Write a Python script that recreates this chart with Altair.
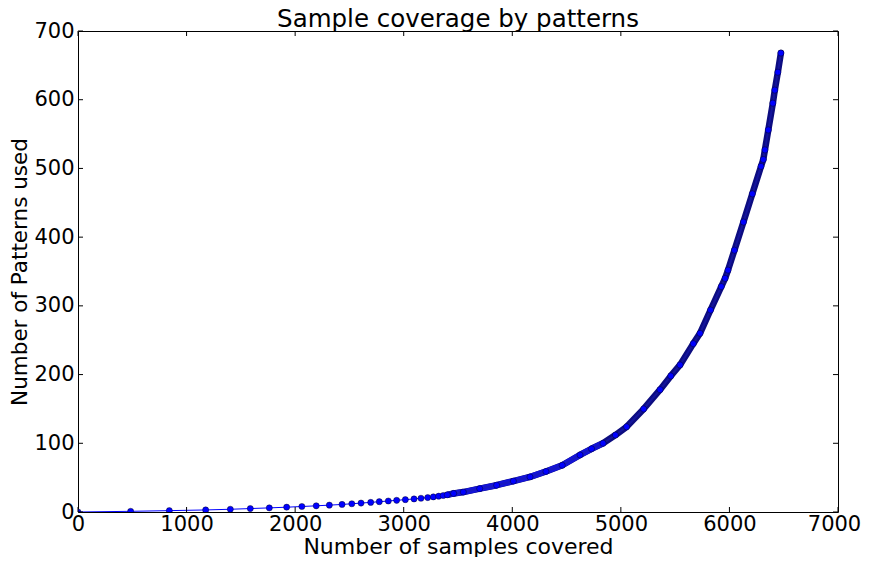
import altair as alt
import pandas as pd

# Points (samples covered, patterns used)
sparse_x = [0, 485, 841, 1176, 1403, 1587, 1762, 1922, 2062, 2194, 2315, 2432, 2522,
            2607, 2696, 2775, 2858, 2935, 3015, 3095, 3159, 3221, 3273, 3322, 3364, 3401]
sparse_y = [0, 1, 2, 3, 4, 5, 6, 7, 8, 9, 10, 11, 12,
            13, 14, 15, 16, 17, 18, 19, 20, 21, 22, 23, 24, 25]

dense_x = [3401, 3460, 3549, 3700, 3856, 4010, 4163, 4310, 4460, 4624, 4730, 4836, 4950,
           5053, 5210, 5361, 5460, 5545, 5667, 5729, 5826, 5925, 5960, 5987, 6046,
           6129, 6211, 6291, 6312, 6327, 6358, 6400, 6418, 6446, 6474]
dense_y = [25, 27, 29, 34, 39, 45, 51, 59, 68, 83, 92, 100, 112,
           124, 150, 178, 198, 214, 245, 260, 294, 328, 340, 352, 381,
           422, 463, 503, 513, 527, 556, 595, 614, 640, 668]

x_ticks = [0, 1000, 2000, 3000, 4000, 5000, 6000, 7000]
y_ticks = [0, 100, 200, 300, 400, 500, 600, 700]

W, H = 760, 481
FONT = "DejaVu Sans"

all_df = pd.DataFrame({"x": sparse_x + dense_x[1:], "y": sparse_y + dense_y[1:]})
all_df["order"] = range(len(all_df))
dense_df = pd.DataFrame({"x": dense_x, "y": dense_y})
dense_df["order"] = range(len(dense_df))
low_df = dense_df[dense_df["y"] <= 100]
xt = pd.DataFrame({"t": x_ticks})
yt = pd.DataFrame({"t": y_ticks})

xs = alt.Scale(domain=[0, 7000], nice=False, zero=False)
ys = alt.Scale(domain=[0, 700], nice=False, zero=False)

xaxis = alt.Axis(values=x_ticks, format="d", grid=False, ticks=False, domain=False,
                 labelFont=FONT, labelFontSize=21, labelColor="black", labelPadding=1,
                 labelFlush=False,
                 labelOffset={"condition": {"test": "datum.value == 7000", "value": -4}, "value": 0},
                 title="Number of samples covered", titleFont=FONT, titleFontSize=22,
                 titleFontWeight="normal", titleColor="black",
                 titleBaseline="alphabetic", titleY=41)
yaxis = alt.Axis(values=y_ticks, format="d", grid=False, ticks=False, domain=False,
                 labelFont=FONT, labelFontSize=21, labelColor="black", labelPadding=4,
                 labelFlush=False,
                 title="Number of Patterns used", titleFont=FONT, titleFontSize=21.5,
                 titleFontWeight="normal", titleColor="black", titlePadding=2)

base = alt.Chart(all_df)

thin_line = base.mark_line(color="#0000ff", strokeWidth=1, clip=True).encode(
    x=alt.X("x:Q", scale=xs, axis=xaxis),
    y=alt.Y("y:Q", scale=ys, axis=yaxis),
    order="order:Q",
)

band_navy = alt.Chart(dense_df).mark_line(color="#0c0c80", strokeWidth=6.5, strokeCap="round",
                                          strokeJoin="round", clip=True).encode(
    x=alt.X("x:Q", scale=xs), y=alt.Y("y:Q", scale=ys), order="order:Q")

band_blue = alt.Chart(low_df).mark_line(color="#1414d8", strokeWidth=6, strokeCap="round",
                                        strokeJoin="round", clip=True).encode(
    x=alt.X("x:Q", scale=xs), y=alt.Y("y:Q", scale=ys), order="order:Q")

band_core = alt.Chart(dense_df).mark_line(color="#1a1ab0", strokeWidth=2, opacity=0.6,
                                          clip=True).encode(
    x=alt.X("x:Q", scale=xs), y=alt.Y("y:Q", scale=ys), order="order:Q")

pts = base.mark_point(filled=True, shape="circle", size=38, color="#0000ff",
                      stroke="black", strokeWidth=0.4, opacity=1, clip=True).encode(
    x=alt.X("x:Q", scale=xs), y=alt.Y("y:Q", scale=ys))

tick_len = 5
bottom_ticks = alt.Chart(xt).mark_rule(color="black", strokeWidth=1).encode(
    x=alt.X("t:Q", scale=xs), y=alt.value(H), y2=alt.value(H - tick_len))
top_ticks = alt.Chart(xt).mark_rule(color="black", strokeWidth=1).encode(
    x=alt.X("t:Q", scale=xs), y=alt.value(0), y2=alt.value(tick_len))
left_ticks = alt.Chart(yt).mark_rule(color="black", strokeWidth=1).encode(
    y=alt.Y("t:Q", scale=ys), x=alt.value(0), x2=alt.value(tick_len))
right_ticks = alt.Chart(yt).mark_rule(color="black", strokeWidth=1).encode(
    y=alt.Y("t:Q", scale=ys), x=alt.value(W), x2=alt.value(W - tick_len))

chart = alt.layer(
    thin_line, band_navy, band_blue, band_core, pts,
    bottom_ticks, top_ticks, left_ticks, right_ticks,
).properties(
    width=W, height=H,
    title=alt.TitleParams("Sample coverage by patterns", font=FONT, fontSize=24.5,
                          fontWeight="normal", color="black", anchor="middle", offset=-12),
    padding={"left": 70, "top": 23, "right": 23, "bottom": 45},
    autosize=alt.AutoSizeParams(type="none"),
    background="white",
).configure_view(stroke="black", strokeWidth=1)

chart.save("out.html", embed_options={"renderer": "svg", "actions": False})
